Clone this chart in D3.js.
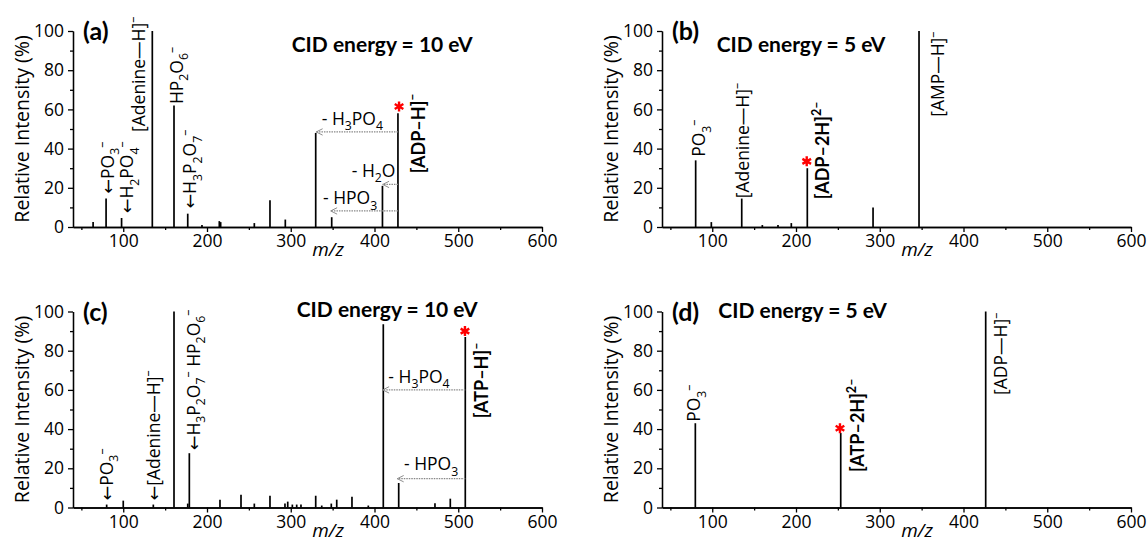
<!DOCTYPE html>
<html>
<head>
<meta charset="utf-8">
<script src="https://cdn.jsdelivr.net/npm/d3@7"></script>
<style>
body { margin: 0; background: #fff; }
svg { display: block; }
text { font-family: "Open Sans", sans-serif; fill: #000; }
.tick text { font-size: 17.5px; font-family: "Open Sans", sans-serif; }
.bold { font-family: Lato, "Open Sans", sans-serif; font-weight: bold; }
.arrow { font-family: "DejaVu Sans", sans-serif; }
</style>
</head>
<body>
<svg width="1147" height="542"></svg>
<script>
// peaks, m/z and relative intensity (%)
var mzA = [64, 79.5, 98, 134.7, 160.6, 177, 194, 214.7, 216.3, 256.5, 275.2, 293.5, 329.8, 348.9, 409.5, 428]
var intA = [2.5, 14.5, 4.6, 100, 62, 6.8, 1, 3, 2.5, 2, 13.6, 3.8, 48, 5, 21, 58]

var mzB = [80.2, 98.9, 135.2, 159.8, 178.5, 194.4, 213.5, 292, 346.9]
var intB = [34, 2.5, 14.5, 1, 1, 2, 30, 10, 100]

var mzC = [80.2, 100, 135.9, 160.6, 177, 178.9, 215.5, 240.6, 256.5, 275.2, 293.1, 296.4, 301.9, 307.1, 312.2, 329.8, 337, 348.4, 354.9, 373.1, 392.6, 410.5, 428.9, 472.2, 490.5, 508.4]
var intC = [1.5, 3.5, 1.5, 100, 2, 27.7, 4, 6.5, 2, 6, 2, 3, 1.5, 1.5, 1.5, 6, 1, 2, 4, 5.5, 1, 93.5, 12.5, 2.2, 4.5, 87]

var mzD = [79.8, 253.4, 426.5]
var intD = [43, 38, 100]

// tick values
var xMajor = [100, 200, 300, 400, 500, 600]
var xMinor = [50, 150, 250, 350, 450, 550]
var yMajor = [0, 20, 40, 60, 80, 100]
var yMinor = [10, 30, 50, 70, 90]

// annotations: text ( _ = subscript, ^ = superscript ), m/z, intensity
var labelsA = [["←PO_3^–", 81, 17], ["←H_2PO_4^–", 104.5, 7], ["[Adenine—H]^–", 118, 48.5], ["HP_2O_6^–", 163.8, 62.7], ["←H_3P_2O_7^–", 179.7, 9.4]]
var boldA = [["[ADP–H]^–", 452, 27.4]]
var notesA = [["- H_3PO_4", 337, 52], ["- H_2O", 372.8, 25.5], ["- HPO_3", 338.5, 11.6]]
var arrowsA = [[428, 330.4, 48.5], [428, 409.8, 21.7], [428, 347.7, 8.2]]
var starsA = [[429.3, 61.5]]

var labelsB = [["PO_3^–", 84.2, 35.8], ["[Adenine—H]^–", 135.9, 14.7], ["[AMP—H]^–", 369.6, 56.2]]
var boldB = [["[ADP–2H]^2^–", 231.4, 14.2]]
var starsB = [[212.8, 33.5]]

var labelsC = [["←PO_3^–", 80.2, 3.6], ["←[Adenine—H]^–", 135.9, 3.6], ["←H_3P_2O_7^– HP_2O_6^–", 183.6, 29.2]]
var boldC = [["[ATP–H]^–", 528, 45.5]]
var notesC = [["- H_3PO_4", 416.5, 63.6], ["- HPO_3", 435.2, 19]]
var arrowsC = [[508.4, 409.8, 60], [508.4, 427.2, 14.7]]
var starsC = [[508, 90]]

var labelsD = [["PO_3^–", 78.2, 43.7], ["[ADP—H]^–", 444.4, 57.4]]
var boldD = [["[ATP–2H]^2^–", 273.2, 18.1]]
var starsD = [[252.5, 40.4]]

var svg = d3.select("svg")
var graph = { width: 469, height: 196 }

svg.append("defs").append("marker")
    .attr("id", "head")
    .attr("viewBox", "0 0 10 10")
    .attr("refX", 9)
    .attr("refY", 5)
    .attr("markerUnits", "userSpaceOnUse")
    .attr("markerWidth", 8)
    .attr("markerHeight", 8)
    .attr("orient", "auto")
    .append("path")
    .attr("d", "M1,1 L9,5 L1,9")
    .attr("fill", "none")
    .attr("stroke", "#888")
    .attr("stroke-width", 1.2)

// writes "PO_3^–" style strings as tspans
var richText = function (textSel, str, fs) {
    var shift = 0
    var i = 0
    while (i < str.length) {
        var mode = "n"
        var c = str[i]
        if (c === "_" || c === "^") {
            mode = c
            i++
            c = str[i]
        } else if (c !== "←") {
            while (i + 1 < str.length && "_^←".indexOf(str[i + 1]) < 0) {
                i++
                c += str[i]
            }
        }
        var target = mode === "_" ? fs * 0.3 : (mode === "^" ? -fs * 0.42 : 0)
        textSel.append("tspan")
            .attr("dy", target - shift)
            .classed("arrow", c === "←")
            .style("font-size", (mode === "n" ? fs : fs * 0.7) + "px")
            .text(c)
        shift = target
        i++
    }
}

var drawPanel = function (p) {
    var g = svg.append("g")
        .attr("transform", "translate(" + p.left + "," + p.top + ")")

    var xScale = d3.scaleLinear()
        .domain([40, 600])
        .range([0, graph.width])
    var yScale = d3.scaleLinear()
        .domain([0, 100])
        .range([graph.height, 0])

    var peaks = p.mz.map(function (m, i) {
        return { mz: m, val: p.ints[i] }
    })

    // axes
    var xa = g.append("g")
        .attr("transform", "translate(0," + graph.height + ")")
    xa.call(d3.axisBottom(xScale).tickValues(xMinor).tickSize(3).tickFormat("").tickSizeOuter(0))
    xa.append("g").call(d3.axisBottom(xScale).tickValues(xMajor).tickSize(5).tickPadding(3).tickSizeOuter(0))

    var ya = g.append("g")
    ya.call(d3.axisLeft(yScale).tickValues(yMinor).tickSize(3).tickFormat("").tickSizeOuter(0))
    ya.append("g").call(d3.axisLeft(yScale).tickValues(yMajor).tickSize(5).tickPadding(4).tickSizeOuter(0))

    g.selectAll(".domain, .tick line")
        .attr("stroke", "#000")
        .attr("stroke-width", 1.3)
    g.selectAll(".tick text").attr("fill", "#000")

    g.selectAll(".peak")
        .data(peaks)
        .enter()
        .append("line")
        .classed("peak", true)
        .attr("x1", function (d) { return xScale(d.mz) })
        .attr("x2", function (d) { return xScale(d.mz) })
        .attr("y1", yScale(0))
        .attr("y2", function (d) { return yScale(d.val) })
        .attr("stroke", "#000")
        .attr("stroke-width", 1.7)

    // loss arrows
    g.selectAll(".loss")
        .data(p.arrows || [])
        .enter()
        .append("line")
        .classed("loss", true)
        .attr("x1", function (d) { return xScale(d[0]) })
        .attr("x2", function (d) { return xScale(d[1]) })
        .attr("y1", function (d) { return yScale(d[2]) })
        .attr("y2", function (d) { return yScale(d[2]) })
        .attr("stroke", "#888")
        .attr("stroke-width", 1.2)
        .attr("stroke-dasharray", "1.5,1")
        .attr("marker-end", "url(#head)")

    var rotLabel = function (d, fs, bold) {
        var t = g.append("text")
            .attr("transform", "translate(" + (xScale(d[1]) + fs * 0.36) + "," + yScale(d[2]) + ") rotate(-90)")
            .classed("bold", bold)
        richText(t, d[0], fs)
    }
    p.labels.forEach(function (d) { rotLabel(d, 17.5, false) })
    p.bold.forEach(function (d) { rotLabel(d, 18, true) })

    ;(p.notes || []).forEach(function (d) {
        var t = g.append("text")
            .attr("x", xScale(d[1]))
            .attr("y", yScale(d[2]))
        richText(t, d[0], 17.5)
    })

    // red asterisk on the precursor
    g.selectAll(".star")
        .data(p.stars)
        .enter()
        .append("path")
        .classed("star", true)
        .attr("transform", function (d) {
            return "translate(" + xScale(d[0]) + "," + yScale(d[1]) + ")"
        })
        .attr("d", d3.symbol(d3.symbolAsterisk, 70))
        .attr("fill", "none")
        .attr("stroke", "#ff0000")
        .attr("stroke-width", 2.4)

    g.append("text")
        .attr("class", "bold")
        .attr("x", 10)
        .attr("y", 9)
        .style("font-size", "25px")
        .text("(" + p.key + ")")

    g.append("text")
        .attr("class", "bold")
        .attr("x", p.titleX)
        .attr("y", p.titleY)
        .style("font-size", "21px")
        .text(p.title)

    g.append("text")
        .attr("transform", "translate(-44," + (graph.height / 2) + ") rotate(-90)")
        .attr("text-anchor", "middle")
        .style("font-size", "19.5px")
        .text("Relative Intensity (%)")

    g.append("text")
        .attr("x", 255)
        .attr("y", graph.height + 29)
        .attr("text-anchor", "middle")
        .style("font-size", "19px")
        .style("font-style", "italic")
        .text("m/z")
}

drawPanel({ key: "a", left: 73, top: 31, mz: mzA, ints: intA, labels: labelsA, bold: boldA, notes: notesA, arrows: arrowsA, stars: starsA, title: "CID energy = 10 eV", titleX: 218.7, titleY: 20.7 })
drawPanel({ key: "b", left: 662, top: 31, mz: mzB, ints: intB, labels: labelsB, bold: boldB, stars: starsB, title: "CID energy = 5 eV", titleX: 54.7, titleY: 20.7 })
drawPanel({ key: "c", left: 73, top: 311.5, mz: mzC, ints: intC, labels: labelsC, bold: boldC, notes: notesC, arrows: arrowsC, stars: starsC, title: "CID energy = 10 eV", titleX: 223.7, titleY: 5.2 })
drawPanel({ key: "d", left: 662, top: 311.5, mz: mzD, ints: intD, labels: labelsD, bold: boldD, stars: starsD, title: "CID energy = 5 eV", titleX: 56.3, titleY: 6.8 })
</script>
</body>
</html>
